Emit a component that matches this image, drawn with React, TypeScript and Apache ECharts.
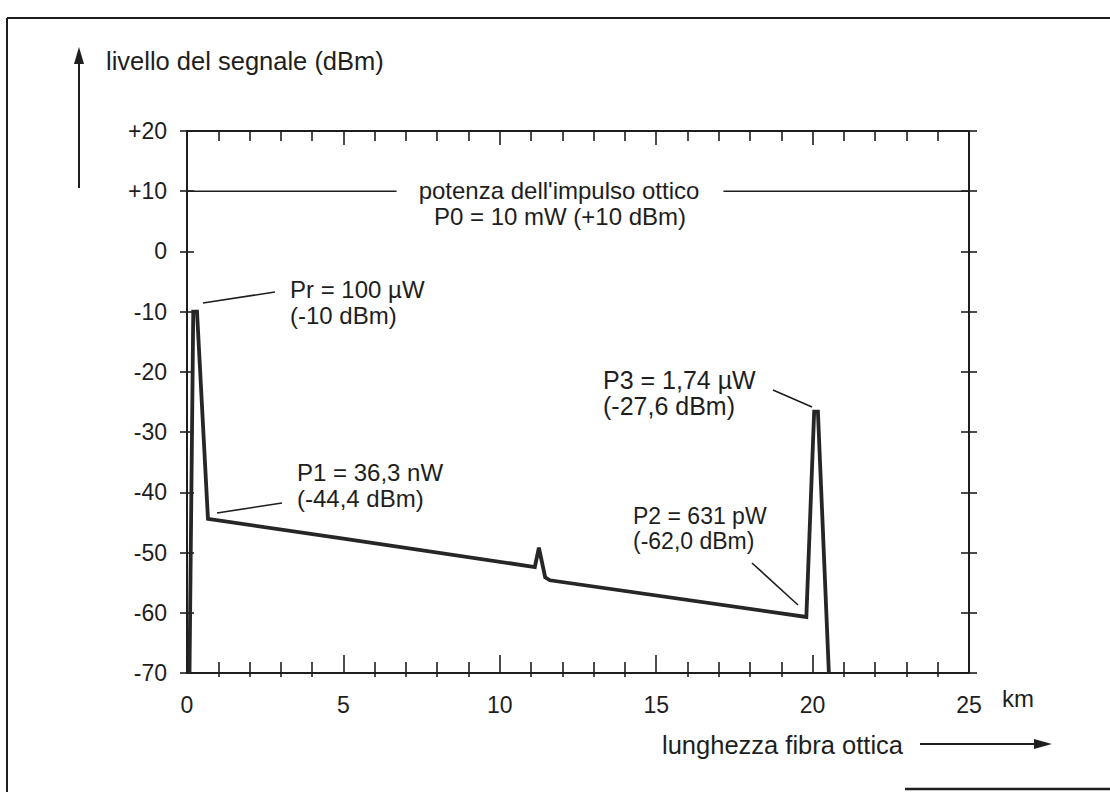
import React, { useEffect, useRef } from "react";
import * as echarts from "echarts";

// ---- data ----
const distanceKm: number[] = [0.08, 0.2, 0.32, 0.67, 5.0, 11.12, 11.25, 11.45, 11.6, 19.8, 20.05, 20.17, 20.52];
const levelDbm: number[] = [-70, -10, -10, -44.4, -47.7, -52.4, -49.2, -54.1, -54.6, -60.7, -26.6, -26.6, -70];

const pulseLevelDbm = 10;
const pulseLineKm: (number | null)[] = [0, 6.7, null, 17.15, 25];

const xTickLabels: string[] = ["0", "5", "10", "15", "20", "25"];
const yTickLabels: string[] = ["-70", "-60", "-50", "-40", "-30", "-20", "-10", "0", "+10", "+20"];

const yTitle = "livello del segnale (dBm)";
const xTitle = "lunghezza fibra ottica";
const xUnit = "km";
const pulseLabel = ["potenza dell'impulso ottico", "P0 = 10 mW (+10 dBm)"];
const annPr = ["Pr = 100 µW", "(-10 dBm)"];
const annP1 = ["P1 = 36,3 nW", "(-44,4 dBm)"];
const annP2 = ["P2 = 631 pW", "(-62,0 dBm)"];
const annP3 = ["P3 = 1,74 µW", "(-27,6 dBm)"];

const FONT = '"Liberation Sans", Arial, Helvetica, sans-serif';
const INK = "#1e1e1e";

export default function App() {
  const ref = useRef<HTMLDivElement>(null);

  useEffect(() => {
    if (!ref.current) return;
    const chart = echarts.init(ref.current, undefined, { renderer: "svg" });

    const trace = distanceKm.map((x, i) => [x, levelDbm[i]]);
    const pulse = pulseLineKm.map((x) => (x === null ? [null, null] : [x, pulseLevelDbm]));

    const yMin = -70, yMax = 20;
    const baseY = {
      type: "value" as const,
      min: yMin,
      max: yMax,
      interval: 10,
      splitLine: { show: false },
    };
    const baseX = {
      type: "value" as const,
      min: 0,
      max: 25,
      interval: 5,
      splitLine: { show: false },
    };

    const text = (t: string, x: number, y: number, size = 24, align = "left", lh = 24) => ({
      type: "text",
      x,
      y,
      silent: true,
      style: {
        text: t,
        fill: INK,
        font: `${size}px ${FONT}`,
        lineHeight: lh,
        align,
        verticalAlign: "middle",
      },
    });
    const line = (x1: number, y1: number, x2: number, y2: number, w = 1.6) => ({
      type: "line",
      silent: true,
      shape: { x1, y1, x2, y2 },
      style: { stroke: INK, lineWidth: w },
    });

    const axLine = (show: boolean, w = 2) => ({ show, onZero: false, lineStyle: { color: INK, width: w } });

    chart.setOption({
      animation: false,
      backgroundColor: "#ffffff",
      grid: { left: 187, right: 141, top: 131, bottom: 119, containLabel: false },
      xAxis: [
        {
          ...baseX,
          position: "bottom",
          axisLine: axLine(true),
          axisTick: { show: true, inside: true, length: 18, lineStyle: { color: INK, width: 1.6 } },
          minorTick: { show: true, splitNumber: 5, length: 11, lineStyle: { color: INK, width: 1.6 } },
          axisLabel: {
            show: true,
            margin: 20,
            fontSize: 23,
            fontFamily: FONT,
            color: INK,
            formatter: (v: number) => xTickLabels[Math.round(v / 5)] ?? "",
          },
        },
        {
          ...baseX,
          position: "bottom",
          axisLine: axLine(false),
          axisTick: { show: false, inside: false },
          minorTick: { show: true, splitNumber: 5, length: 4, lineStyle: { color: INK, width: 1.6 } },
          axisLabel: { show: false },
        },
        {
          ...baseX,
          position: "top",
          axisLine: axLine(true),
          axisTick: { show: true, inside: true, length: 14, lineStyle: { color: INK, width: 1.6 } },
          minorTick: { show: true, splitNumber: 5, length: 10, lineStyle: { color: INK, width: 1.6 } },
          axisLabel: { show: false },
        },
      ],
      yAxis: [
        {
          ...baseY,
          position: "left",
          axisLine: axLine(true),
          axisTick: { show: true, inside: true, length: 7, lineStyle: { color: INK, width: 1.6 } },
          axisLabel: {
            show: true,
            margin: 20,
            fontSize: 23,
            fontFamily: FONT,
            color: INK,
            formatter: (v: number) => yTickLabels[Math.round((v - yMin) / 10)] ?? "",
          },
        },
        {
          ...baseY,
          position: "left",
          axisLine: axLine(false),
          axisTick: { show: true, inside: false, length: 7, lineStyle: { color: INK, width: 1.6 } },
          axisLabel: { show: false },
        },
        {
          ...baseY,
          position: "right",
          axisLine: axLine(true),
          axisTick: { show: true, inside: true, length: 8, lineStyle: { color: INK, width: 1.6 } },
          axisLabel: { show: false },
        },
        {
          ...baseY,
          position: "right",
          axisLine: axLine(false),
          axisTick: { show: true, inside: false, length: 8, lineStyle: { color: INK, width: 1.6 } },
          axisLabel: { show: false },
        },
      ],
      series: [
        {
          type: "line",
          xAxisIndex: 0,
          yAxisIndex: 0,
          data: pulse,
          symbol: "none",
          connectNulls: false,
          lineStyle: { color: INK, width: 1.6 },
          silent: true,
        },
        {
          type: "line",
          xAxisIndex: 0,
          yAxisIndex: 0,
          data: trace,
          symbol: "none",
          lineStyle: { color: "#262626", width: 3.8, join: "miter" },
          silent: true,
          z: 5,
        },
      ],
      graphic: [
        // frame of the figure
        line(7, 18, 1110, 18, 2),
        line(7, 18, 7, 792, 2),
        line(905, 789, 1110, 789, 2.5),
        // y-axis arrow and title
        line(79, 188, 79, 60, 2),
        { type: "polygon", silent: true, shape: { points: [[79, 47], [74, 64], [84, 64]] }, style: { fill: INK } },
        text(yTitle, 106, 61, 25.5, "left", 26),
        // x-axis title and arrow
        text(xTitle, 662, 745, 25.5, "left", 26),
        line(920, 744, 1038, 744, 2),
        { type: "polygon", silent: true, shape: { points: [[1052, 744], [1034, 739], [1034, 749]] }, style: { fill: INK } },
        text(xUnit, 1002, 698, 24),
        // pulse power
        text(pulseLabel[0], 559, 190, 24, "center", 24),
        text(pulseLabel[1], 560, 216, 24, "center", 24),
        // Pr
        line(203, 303, 275, 292),
        text(annPr[0], 290, 289, 24, "left", 24),
        text(annPr[1], 290, 315, 24, "left", 24),
        // P1
        line(217, 513, 282, 503),
        text(annP1[0], 297, 472, 24, "left", 24),
        text(annP1[1], 297, 498, 24, "left", 24),
        // P2
        line(752, 563, 798, 605),
        text(annP2[0], 633, 516, 23, "left", 23),
        text(annP2[1], 633, 541, 23, "left", 23),
        // P3
        line(773, 390, 812, 407),
        text(annP3[0], 603, 380, 25, "left", 25),
        text(annP3[1], 603, 406, 25, "left", 25),
      ],
    });

    return () => chart.dispose();
  }, []);

  return (
    <div
      ref={ref}
      style={{ position: "fixed", left: 0, top: 0, width: 1110, height: 792, background: "#fff" }}
    />
  );
}
